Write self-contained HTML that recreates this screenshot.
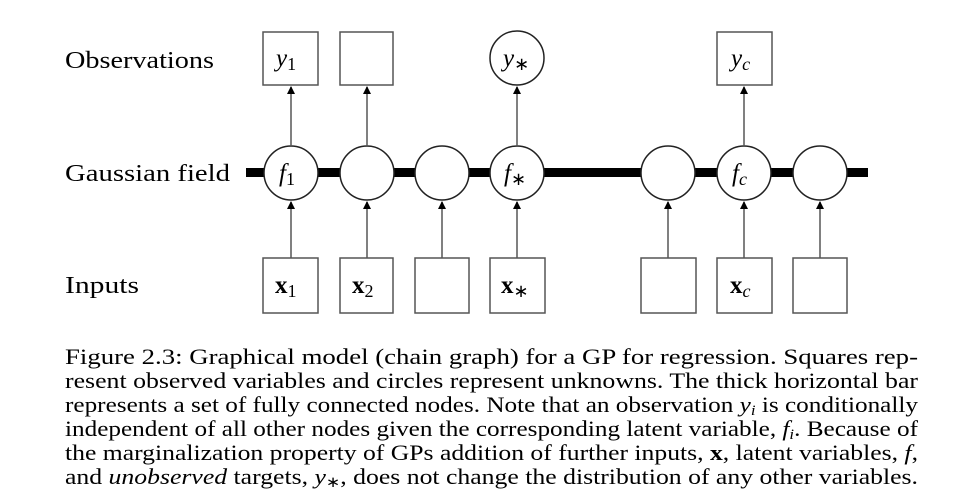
<!DOCTYPE html>
<html><head><meta charset="utf-8"><style>
html,body{margin:0;padding:0;background:#fff;}
svg{display:block;}
text{font-family:"Liberation Serif",serif;fill:#000;}
</style></head><body>
<svg width="968" height="498" viewBox="0 0 968 498" xmlns="http://www.w3.org/2000/svg">
<defs>
<marker id="ah" markerWidth="8" markerHeight="10" refX="7" refY="4" orient="auto" markerUnits="userSpaceOnUse" viewBox="0 0 8 8">
<path d="M0,0 L8,4 L0,8 z" fill="#000"/>
</marker>
</defs>
<text x="65" y="68" font-size="24" textLength="149" lengthAdjust="spacingAndGlyphs">Observations</text>
<text x="65" y="181" font-size="24" textLength="165" lengthAdjust="spacingAndGlyphs">Gaussian field</text>
<text x="65" y="293" font-size="24" textLength="74" lengthAdjust="spacingAndGlyphs">Inputs</text>

<rect x="246" y="168" width="622" height="9" fill="#000"/>

<g stroke="#555" stroke-width="1.5" fill="#fff">
<rect x="263" y="32" width="55" height="53"/>
<rect x="340" y="32" width="53" height="53"/>
<rect x="717" y="32" width="55" height="53"/>
<circle cx="517" cy="58" r="27" stroke="#222"/>
<circle cx="291" cy="173" r="27" stroke="#222"/>
<circle cx="367" cy="173" r="27" stroke="#222"/>
<circle cx="442" cy="173" r="27" stroke="#222"/>
<circle cx="517" cy="173" r="27" stroke="#222"/>
<circle cx="668" cy="173" r="27" stroke="#222"/>
<circle cx="744" cy="173" r="27" stroke="#222"/>
<circle cx="820" cy="173" r="27" stroke="#222"/>
<rect x="263" y="258" width="55" height="55"/>
<rect x="340" y="258" width="53" height="55"/>
<rect x="415" y="258" width="54" height="55"/>
<rect x="490" y="258" width="55" height="55"/>
<rect x="641" y="258" width="55" height="55"/>
<rect x="717" y="258" width="55" height="55"/>
<rect x="793" y="258" width="54" height="55"/>
</g>

<g stroke="#555" stroke-width="1.5" marker-end="url(#ah)">
<line x1="291" y1="146" x2="291" y2="87"/>
<line x1="367" y1="146" x2="367" y2="87"/>
<line x1="517" y1="146" x2="517" y2="87"/>
<line x1="744" y1="146" x2="744" y2="87"/>
<line x1="291" y1="258" x2="291" y2="202"/>
<line x1="367" y1="258" x2="367" y2="202"/>
<line x1="442" y1="258" x2="442" y2="202"/>
<line x1="517" y1="258" x2="517" y2="202"/>
<line x1="668" y1="258" x2="668" y2="202"/>
<line x1="744" y1="258" x2="744" y2="202"/>
<line x1="820" y1="258" x2="820" y2="202"/>
</g>

<g font-size="25">
<text x="276" y="66" font-style="italic">y<tspan font-style="normal" font-size="18" dy="4">1</tspan></text>
<text x="503" y="66" font-style="italic">y<tspan font-size="18" font-style="normal" dy="4">∗</tspan></text>
<text x="731" y="66" font-style="italic">y<tspan font-size="18" dy="4">c</tspan></text>
<text x="279" y="181" font-style="italic">f<tspan font-style="normal" font-size="18" dy="4">1</tspan></text>
<text x="504" y="181" font-style="italic">f<tspan font-size="18" font-style="normal" dy="4">∗</tspan></text>
<text x="732" y="181" font-style="italic">f<tspan font-size="18" dy="4">c</tspan></text>
<text x="275" y="293" font-weight="bold">x<tspan font-weight="normal" font-size="18" dy="4">1</tspan></text>
<text x="352" y="293" font-weight="bold">x<tspan font-weight="normal" font-size="18" dy="4">2</tspan></text>
<text x="501" y="293" font-weight="bold">x<tspan font-weight="normal" font-size="18" dy="4">∗</tspan></text>
<text x="730" y="293" font-weight="bold">x<tspan font-weight="normal" font-style="italic" font-size="18" dy="4">c</tspan></text>
</g>

<g font-size="22.5">
<text x="65" y="364" textLength="853" lengthAdjust="spacingAndGlyphs">Figure 2.3:  Graphical model (chain graph) for a GP for regression.  Squares rep-</text>
<text x="65" y="388" textLength="853" lengthAdjust="spacingAndGlyphs">resent observed variables and circles represent unknowns.  The thick horizontal bar</text>
<text x="65" y="412" textLength="853" lengthAdjust="spacingAndGlyphs">represents a set of fully connected nodes. Note that an observation <tspan font-style="italic">y</tspan><tspan font-style="italic" font-size="15" dy="3">i</tspan><tspan dy="-3"> is conditionally</tspan></text>
<text x="65" y="436" textLength="853" lengthAdjust="spacingAndGlyphs">independent of all other nodes given the corresponding latent variable, <tspan font-style="italic">f</tspan><tspan font-style="italic" font-size="15" dy="3">i</tspan><tspan dy="-3">. Because of</tspan></text>
<text x="65" y="460" textLength="853" lengthAdjust="spacingAndGlyphs">the marginalization property of GPs addition of further inputs, <tspan font-weight="bold">x</tspan>, latent variables, <tspan font-style="italic">f</tspan>,</text>
<text x="65" y="484" textLength="853" lengthAdjust="spacingAndGlyphs">and <tspan font-style="italic">unobserved</tspan> targets, <tspan font-style="italic">y</tspan><tspan font-size="15" dy="3">∗</tspan><tspan dy="-3">, does not change the distribution of any other variables.</tspan></text>
</g>
</svg>
</body></html>
